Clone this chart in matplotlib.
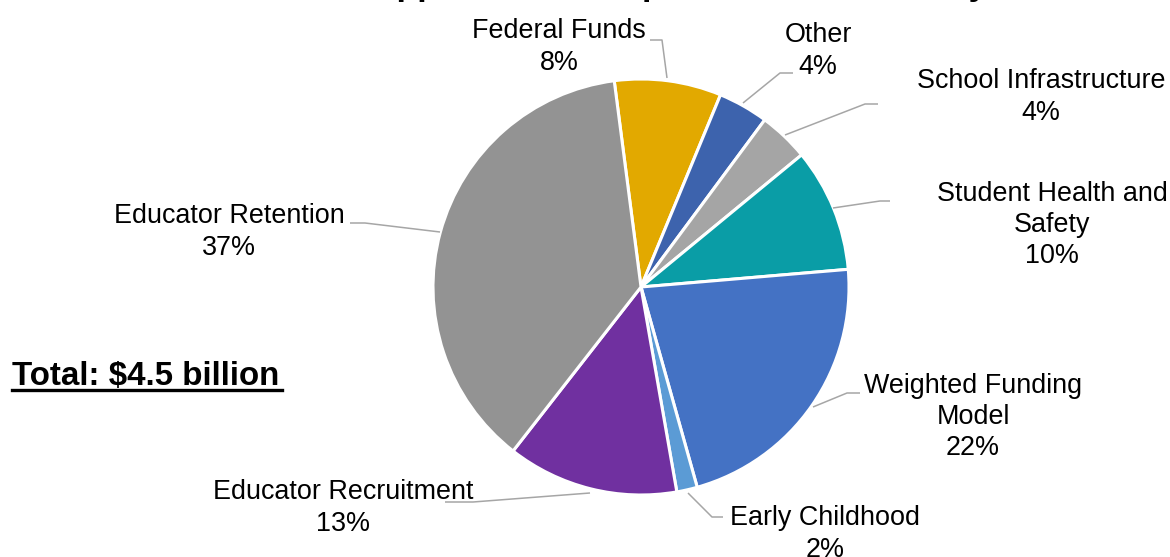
import matplotlib
matplotlib.use("Agg")
import matplotlib.pyplot as plt

plt.rcParams['font.family'] = ['Liberation Sans', 'DejaVu Sans']

# data (share of total, %), clockwise from the top
categories = ["Federal Funds", "Other", "School Infrastructure",
              "Student Health and\nSafety", "Weighted Funding\nModel",
              "Early Childhood", "Educator Recruitment", "Educator Retention"]
shares = [8.3, 3.9, 3.9, 9.6, 22.0, 1.6, 13.3, 37.4]
colors = ["#E2A900", "#3D63AD", "#A5A5A5", "#0A9DA6",
          "#4472C4", "#5B9BD5", "#7030A0", "#939393"]
total_label = "Total: $4.5 billion"
title = "Supplemental Proposal Investments by Area"

W, H = 1170, 557
fig = plt.figure(figsize=(W / 100, H / 100), dpi=100)
ax = fig.add_axes([0, 0, 1, 1])


def Y(y):
    return H - y


cx, cy, rad = 641, 287, 208
explode = [0, 0, 0, 0, 0.012, 0.012, 0, 0]
ax.pie(shares, colors=colors, startangle=97.4, counterclock=False,
       center=(cx, Y(cy)), radius=rad, explode=explode, frame=True,
       wedgeprops=dict(edgecolor='white', linewidth=2.2))
ax.set_xlim(0, W)
ax.set_ylim(0, H)
ax.set_aspect('equal')
ax.axis('off')

# label block centres (px) and leader lines (px)
label_pos = [(559, 47), (818, 51), (1041, 97), (1052, 225),
             (973, 417), (825, 534), (343, 508), (229, 232)]
leaders = [
    [(650, 40), (662, 40), (667, 78)],
    [(793, 73), (780, 73), (743, 103)],
    [(878, 104), (865, 104), (785, 135)],
    [(890, 201), (880, 201), (833, 208)],
    [(860, 393), (847, 393), (813, 407)],
    [(723, 517), (712, 517), (688, 493)],
    [(445, 502), (473, 502), (590, 493)],
    [(350, 223), (365, 223), (440, 232)],
]

for name, v, (lx, ly), pts in zip(categories, shares, label_pos, leaders):
    ax.text(lx, Y(ly), f"{name}\n{v:.0f}%", ha='center', va='center',
            fontsize=19.4, color='#000000', linespacing=1.26)
    xs = [p[0] for p in pts]
    ys = [Y(p[1]) for p in pts]
    ax.plot(xs, ys, color='#A6A6A6', lw=1.1, solid_capstyle='butt')

ax.text(12, Y(377), total_label, ha='left', va='center', fontsize=23.9,
        fontweight='bold', color='#000000')
ax.plot([12, 282], [Y(390), Y(390)], color='#000000', lw=2.4)

# title sits mostly above the visible canvas
fig.text(353 / W, (H + 5) / H, title, ha='left', va='baseline',
         fontsize=24.5, fontweight='bold', color='#000000')

fig.savefig("out.png", dpi=100)
